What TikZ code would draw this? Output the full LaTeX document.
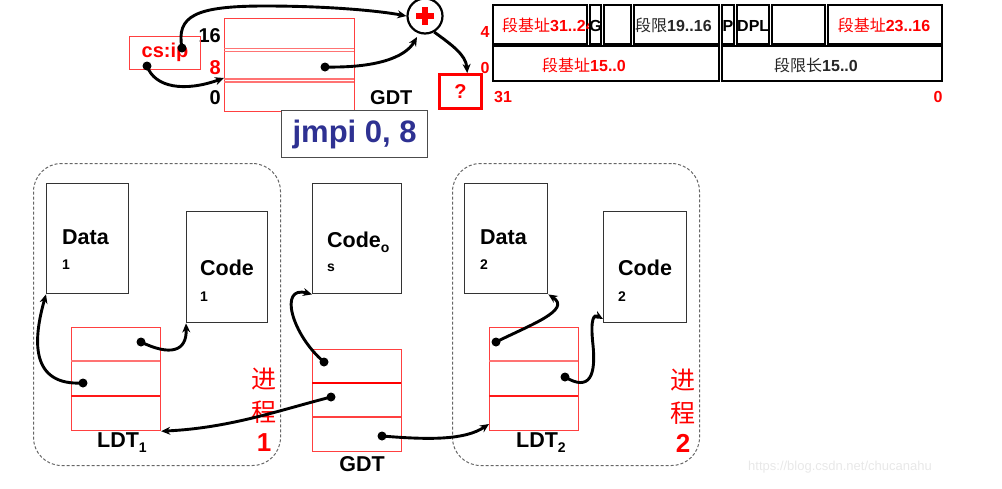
\documentclass[tikz,border=0pt]{standalone}
\usepackage{fontspec}
\setmainfont{Liberation Sans}
\newfontfamily\cjk{Noto Sans CJK SC}
\usetikzlibrary{arrows.meta,calc}
\definecolor{navy}{RGB}{46,49,146}
\begin{document}
\begin{tikzpicture}[x=1pt,y=-1pt,
  fs/.style={font=\fontsize{#1}{#1}\selectfont\bfseries},
  txt/.style={inner sep=0pt},
  segbox/.style={draw=black!80, line width=1.4pt, inner sep=0pt, anchor=north west},
  redbox/.style={draw=red!75, line width=1.2pt, inner sep=0pt, anchor=north west},
  redline/.style={draw=red!75, line width=1.2pt},
  dot/.style={circle, fill=black, inner sep=0pt, minimum size=9pt},
  link/.style={line width=2.9pt, -{Stealth[length=9pt,width=8pt]}},
  proc/.style={draw=black!60, dash pattern=on 3pt off 2pt, rounded corners=28pt, line width=1pt, inner sep=0pt, anchor=north west},
  cell/.style={draw=black, line width=2.4pt},
  redtxt/.style={text=red},
]
\useasboundingbox (0,0) rectangle (1002,488);

% ---------- top left ----------
\node[redbox, minimum width=130pt, minimum height=93pt] (gdtt) at (224,18) {};
\draw[redline, draw=red!55] (224,48.5) -- (354,48.5) (224,51.5) -- (354,51.5);
\draw[redline, draw=red!55] (224,79) -- (354,79) (224,82) -- (354,82);
\node[txt, fs=20, anchor=east] (l16) at (221,36) {16};
\node[txt, fs=20, anchor=east, redtxt] (l8) at (221,68) {8};
\node[txt, fs=20, anchor=east] (l0) at (221,98) {0};
\node[txt, fs=20, anchor=west] (gdttl) at (370,98) {GDT};

\node[redbox, minimum width=71pt, minimum height=33pt] (csip) at (129,36) {};
\node[txt, fs=20, redtxt] (csiptxt) at (165,52) {cs:ip};

\node[draw, circle, line width=2.2pt, minimum size=35pt, inner sep=0pt] (plus) at (425,16) {};
\fill[red] ($(plus)+(-9,-3)$) rectangle ($(plus)+(9,3)$);
\fill[red] ($(plus)+(-3,-9)$) rectangle ($(plus)+(3,9)$);

\node[draw=red, line width=3pt, minimum width=42pt, minimum height=34pt, inner sep=0pt, anchor=north west] (q) at (438,73) {};
\node[txt, fs=20, redtxt] (qtxt) at (q.center) {?};

\node[draw=black!70, fill=white, line width=1.3pt, minimum width=146pt, minimum height=47pt, inner sep=0pt, anchor=north west] (jmpi) at (281,110) {};
\node[txt, fs=31, text=navy] (jmpitxt) at (jmpi.center) {jmpi 0, 8};

\node[dot] (csA) at (182,48) {};
\node[dot] (csB) at (147,66) {};
\node[dot] (gA) at (325,67) {};
\coordinate (gdtin) at (224,78);
\coordinate (plusin) at (417,37);

\draw[link] (csA.center) .. controls (176,16) and (195,6) .. (265,6) .. controls (330,6) and (380,11) .. (plus.west);
\draw[link] (csB.center) .. controls (155,88) and (185,92) .. (gdtin);
\draw[link] (gA.center) .. controls (375,68) and (405,58) .. (plusin);
\draw[link] (plus.300) .. controls (452,45) and (466,55) .. (q.70);

% ---------- descriptor table ----------
\draw[cell] (493,5) rectangle (587,44);
\begin{scope}
\clip (493,5) rectangle (590,44);
\node[txt, fs=16, anchor=west, redtxt] (b3124) at (502,25) {{\cjk\mdseries 段基址}31..24};
\end{scope}
\draw[cell] (590,5) rectangle (601,44);
\draw[cell] (604,5) rectangle (631,44);
\draw[cell] (634,5) rectangle (719,44);
\draw[cell] (722,5) rectangle (734,44);
\draw[cell] (737,5) rectangle (769,44);
\draw[cell] (772,5) rectangle (825,44);
\draw[cell] (828,5) rectangle (942,44);
\draw[cell] (493,46) rectangle (719,81);
\draw[cell] (722,46) rectangle (942,81);
\node[txt, fs=16] (gtxt) at (595.5,26) {G};
\node[txt, fs=16, anchor=west, text=black!85] (lim) at (635,25) {{\cjk\mdseries 段限}19..16};
\node[txt, fs=16] (ptxt) at (728,26) {P};
\node[txt, fs=16, anchor=west] (dpl) at (737,26) {DPL};
\node[txt, fs=16, redtxt] (b2316) at (884,25) {{\cjk\mdseries 段基址}23..16};
\node[txt, fs=16, redtxt] (b150) at (584,65) {{\cjk\mdseries 段基址}15..0};
\node[txt, fs=16, text=black!85] (l150) at (816,65) {{\cjk\mdseries 段限长}15..0};
\node[txt, fs=16, redtxt] (r4) at (485,32) {4};
\node[txt, fs=16, redtxt] (r0) at (485,68) {0};
\node[txt, fs=16, redtxt] (r31) at (503,97) {31};
\node[txt, fs=16, redtxt] (r00) at (938,97) {0};

% ---------- process boxes ----------
\node[proc, minimum width=247pt, minimum height=302pt] (proc1) at (33,163) {};
\node[proc, minimum width=247pt, minimum height=302pt] (proc2) at (452,163) {};

\node[segbox, minimum width=82pt, minimum height=110pt] (data1) at (46,183) {};
\node[txt, fs=21.5, anchor=west] (data1t) at (62,237) {Data};
\node[txt, fs=14, anchor=west] (data1n) at (62,265) {1};
\node[segbox, minimum width=81pt, minimum height=111pt] (code1) at (186,211) {};
\node[txt, fs=21.5, anchor=west] (code1t) at (200,268) {Code};
\node[txt, fs=14, anchor=west] (code1n) at (200,297) {1};

\node[segbox, minimum width=89pt, minimum height=110pt] (codeos) at (312,183) {};
\node[txt, fs=21.5, anchor=west] (codeost) at (327,242) {Code\raisebox{-5pt}{\fontsize{14}{14}\selectfont o}};
\node[txt, fs=14, anchor=west] (codeosn) at (327,268) {s};

\node[segbox, minimum width=83pt, minimum height=110pt] (data2) at (464,183) {};
\node[txt, fs=21.5, anchor=west] (data2t) at (480,237) {Data};
\node[txt, fs=14, anchor=west] (data2n) at (480,265) {2};
\node[segbox, minimum width=83pt, minimum height=111pt] (code2) at (603,211) {};
\node[txt, fs=21.5, anchor=west] (code2t) at (618,268) {Code};
\node[txt, fs=14, anchor=west] (code2n) at (618,297) {2};

\node[redbox, minimum width=89pt, minimum height=103pt] (ldt1) at (71,327) {};
\draw[redline, draw=red!55] (71,361) -- (160,361);
\draw[redline, draw=red!90] (71,396) -- (160,396);
\node[txt, fs=21.5, anchor=west] (ldt1t) at (97,443) {LDT\raisebox{-5pt}{\fontsize{14}{14}\selectfont 1}};

\node[redbox, minimum width=89pt, minimum height=102pt] (gdtb) at (312,349) {};
\draw[redline, line width=1.7pt, draw=red] (312,383) -- (401,383);
\draw[redline] (312,417) -- (401,417);
\node[txt, fs=21.5] (gdtbt) at (362,464) {GDT};

\node[redbox, minimum width=89pt, minimum height=103pt] (ldt2) at (489,327) {};
\draw[redline, draw=red!55] (489,361) -- (578,361);
\draw[redline, draw=red!90] (489,396) -- (578,396);
\node[txt, fs=21.5, anchor=west] (ldt2t) at (516,443) {LDT\raisebox{-5pt}{\fontsize{14}{14}\selectfont 2}};

\node[txt, font=\cjk\fontsize{25}{25}\selectfont, redtxt] (jin1) at (264,379) {进};
\node[txt, font=\cjk\fontsize{25}{25}\selectfont, redtxt] (cheng1) at (264,412) {程};
\node[txt, fs=26, redtxt] (n1) at (264,443) {1};
\node[txt, font=\cjk\fontsize{25}{25}\selectfont, redtxt] (jin2) at (683,380) {进};
\node[txt, font=\cjk\fontsize{25}{25}\selectfont, redtxt] (cheng2) at (683,413) {程};
\node[txt, fs=26, redtxt] (n2) at (683,443) {2};

% dots
\node[dot] (l1a) at (141,342) {};
\node[dot] (l1b) at (83,383) {};
\node[dot] (gb1) at (324,362) {};
\node[dot] (gb2) at (331,397) {};
\node[dot] (gb3) at (382,436) {};
\node[dot] (l2a) at (496,342) {};
\node[dot] (l2b) at (565,377) {};
\coordinate (l2in) at (489,424);
\coordinate (c2in) at (603,319);

\draw[link] (l1a.center) .. controls (170,356) and (187,352) .. (code1.south west);
\draw[link] (l1b.center) .. controls (30,386) and (33,340) .. (data1.south west);
\draw[link] (gb1.center) .. controls (292,335) and (278,285) .. (codeos.south west);
\draw[link] (gb2.center) .. controls (280,410) and (230,428) .. (ldt1.south east);
\draw[link] (gb3.center) .. controls (430,440) and (465,440) .. (l2in);
\draw[link] (l2a.center) .. controls (530,325) and (572,310) .. (data2.south east);
\draw[link] (l2b.center) .. controls (590,392) and (596,375) .. (593,345) .. controls (590,318) and (594,314) .. (c2in);

% watermark
\node[txt, font=\fontsize{13}{13}\selectfont, text=black!9, anchor=west] (wm) at (748,467) {https://blog.csdn.net/chucanahu};
\end{tikzpicture}
\end{document}
